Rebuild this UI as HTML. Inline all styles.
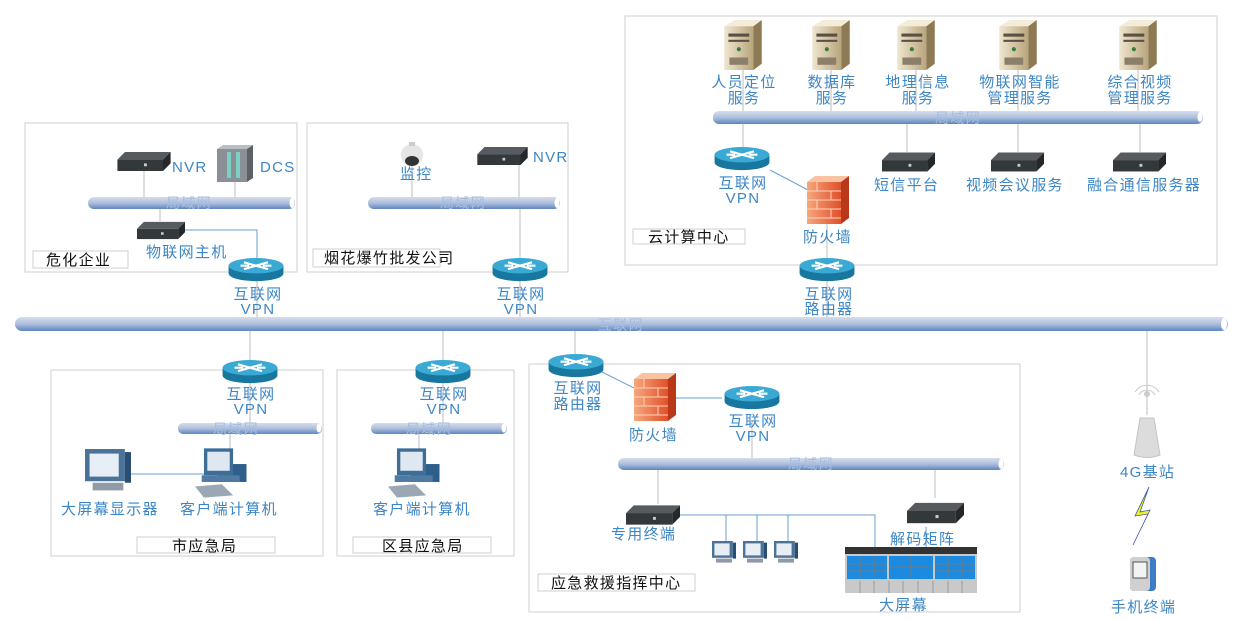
<!DOCTYPE html>
<html><head><meta charset="utf-8"><style>
html,body{margin:0;padding:0;background:#fff}
svg{display:block}
text{font-family:"Liberation Sans","Noto Sans CJK SC",sans-serif;font-size:15px;letter-spacing:1.3px}
.b{fill:#3d86c6}
.k{fill:#111}
.p{fill:#a6bde0;font-size:14px}
.bx{fill:none;stroke:#cfcfcf;stroke-width:1}
.lb{fill:#fff;stroke:#cfcfcf}
.ln{stroke:#bcbcbc;stroke-width:1;fill:none}
.bl{stroke:#6a9fd3;stroke-width:1;fill:none}
</style></head><body>
<svg width="1237" height="621" viewBox="0 0 1237 621" xmlns="http://www.w3.org/2000/svg">
<defs>
<linearGradient id="pg" x1="0" y1="0" x2="0" y2="1">
<stop offset="0" stop-color="#d6deec"/><stop offset="0.5" stop-color="#aebfdc"/><stop offset="1" stop-color="#5d86c0"/></linearGradient>
<linearGradient id="sv" x1="0" y1="0" x2="1" y2="0">
<stop offset="0" stop-color="#efe6cf"/><stop offset="1" stop-color="#b9a57c"/></linearGradient>
<linearGradient id="fw" x1="0" y1="0" x2="1" y2="0">
<stop offset="0" stop-color="#f7a77c"/><stop offset="1" stop-color="#e0502a"/></linearGradient>
<symbol id="rt" viewBox="0 0 64 28">
<path d="M0 9 V18 A32 9 0 0 0 64 18 V9 Z" fill="#17779f"/>
<ellipse cx="32" cy="9" rx="32" ry="9" fill="#3aaad4"/>
<path d="M18 5 L46 13 M46 5 L18 13 M14 9 H24 M40 9 H50" stroke="#fff" stroke-width="2.5"/>
</symbol>
<symbol id="dv" viewBox="0 0 56 20">
<path d="M8 0 H56 L48 8 H0 Z" fill="#555b5f"/>
<rect x="0" y="8" width="48" height="12" fill="#33383b"/>
<path d="M48 8 L56 0 V12 L48 20 Z" fill="#24282a"/>
<rect x="28" y="12" width="3" height="3" fill="#ccc"/>
</symbol>
<symbol id="sr" viewBox="0 0 36 48">
<path d="M0 6 L10 0 H36 L28 6 Z" fill="#f3ecd9"/>
<rect x="0" y="6" width="28" height="42" fill="url(#sv)"/>
<path d="M28 6 L36 0 V42 L28 48 Z" fill="#8d7a55"/>
<rect x="4" y="13" width="20" height="3" fill="#5a5144"/>
<rect x="4" y="19" width="20" height="2" fill="#5a5144"/>
<circle cx="14" cy="28" r="2" fill="#3a7a40"/>
<rect x="5" y="36" width="18" height="7" fill="#8b7f6a"/>
</symbol>
<symbol id="fwl" viewBox="0 0 42 48">
<path d="M0 6 L8 0 H42 L34 6 Z" fill="#f9c2a0"/>
<rect x="0" y="6" width="34" height="42" fill="url(#fw)"/>
<path d="M34 6 L42 0 V42 L34 48 Z" fill="#b9381a"/>
<path d="M0 15 H34 M0 24 H34 M0 33 H34 M0 42 H34 M10 6 V15 M24 15 V24 M10 24 V33 M24 33 V42" stroke="#fbd2bf" stroke-width="1"/>
</symbol>
<symbol id="pc" viewBox="0 0 50 44">
<rect x="20" y="14" width="26" height="16" fill="#2e5f8a"/>
<rect x="8" y="0" width="26" height="24" fill="#3d6e98"/>
<rect x="11" y="3" width="20" height="17" fill="#dfe8f0"/>
<rect x="6" y="24" width="34" height="6" fill="#4f7aa1"/>
<path d="M0 34 L24 32 L34 42 L8 44 Z" fill="#9aa8b6"/>
</symbol>
<symbol id="mn" viewBox="0 0 30 30">
<rect x="0" y="0" width="26" height="21" fill="#4b7399"/>
<rect x="3" y="3" width="19" height="15" fill="#e7eef5"/>
<rect x="26" y="2" width="4" height="20" fill="#2a4e73"/>
<rect x="5" y="22" width="20" height="5" fill="#8f9ba7"/>
</symbol>
</defs>

<rect class="bx" x="25" y="123" width="272" height="149"/>
<rect class="lb" x="33" y="251" width="95" height="17"/><text class="k" x="46" y="265">危化企业</text>
<rect class="bx" x="307" y="123" width="261" height="149"/>
<rect class="lb" x="313" y="249" width="127" height="18"/><text class="k" x="324" y="263">烟花爆竹批发公司</text>
<rect class="bx" x="625" y="16" width="592" height="249"/>
<rect class="lb" x="633" y="229" width="112" height="15"/><text class="k" x="648" y="242">云计算中心</text>
<rect class="bx" x="51" y="370" width="272" height="186"/>
<rect class="lb" x="137" y="537" width="138" height="16"/><text class="k" x="172" y="551">市应急局</text>
<rect class="bx" x="337" y="370" width="177" height="186"/>
<rect class="lb" x="353" y="537" width="138" height="16"/><text class="k" x="382" y="551">区县应急局</text>
<rect class="bx" x="529" y="364" width="491" height="248"/>
<rect class="lb" x="538" y="574" width="157" height="17"/><text class="k" x="551" y="588">应急救援指挥中心</text>

<g class="ln">
<path d="M144 170 V198 M235 182 V198 M160 209 V221 M412 166 V198 M519 164 V198 M520 208 V258"/>
<path d="M257 280 V318 M520 280 V318 M827 280 V318 M827 222 V258"/>
<path d="M743 70 V112 M831 70 V112 M916 70 V112 M1018 70 V112 M1138 70 V112"/>
<path d="M743 124 V148 M907 124 V152 M1018 124 V152 M1140 124 V152"/>
<path d="M250 331 V360 M443 331 V360 M575 331 V354 M1147 331 V415"/>
<path d="M250 382 V424 M443 382 V424 M230 434 V450 M419 434 V450 M752 420 V459 M658 470 V504 M935 470 V498"/>
</g>
<g class="bl">
<path d="M184 230 H257 V258"/>
<path d="M770 170 L808 190"/>
<path d="M598 370 L634 388"/>
<path d="M672 398 H722"/>
<path d="M130 474 H215"/>
<path d="M680 515 H875 V548 M726 515 V542 M757 515 V542 M788 515 V542"/>
<path d="M926 527 V547"/>
</g>

<g>
<rect x="15" y="317" width="1213" height="14" rx="7" fill="url(#pg)"/><ellipse cx="1224" cy="324" rx="3" ry="6" fill="#fff"/>
<text class="p" x="598" y="330">互联网</text>
<rect x="88" y="197" width="207" height="12" rx="6" fill="url(#pg)"/><ellipse cx="292" cy="203" rx="2.5" ry="5" fill="#fff"/><text class="p" x="166" y="208">局域网</text>
<rect x="368" y="197" width="192" height="12" rx="6" fill="url(#pg)"/><ellipse cx="557" cy="203" rx="2.5" ry="5" fill="#fff"/><text class="p" x="440" y="208">局域网</text>
<rect x="713" y="111" width="490" height="13" rx="6" fill="url(#pg)"/><ellipse cx="1200" cy="117" rx="2.5" ry="5" fill="#fff"/><text class="p" x="935" y="123">局域网</text>
<rect x="178" y="423" width="144" height="11" rx="5" fill="url(#pg)"/><ellipse cx="319" cy="428" rx="2.5" ry="4.5" fill="#fff"/><text class="p" x="213" y="434">局域网</text>
<rect x="371" y="423" width="136" height="11" rx="5" fill="url(#pg)"/><ellipse cx="504" cy="428" rx="2.5" ry="4.5" fill="#fff"/><text class="p" x="406" y="434">局域网</text>
<rect x="618" y="458" width="386" height="12" rx="6" fill="url(#pg)"/><ellipse cx="1001" cy="464" rx="2.5" ry="5" fill="#fff"/><text class="p" x="788" y="469">局域网</text>
</g>

<use href="#rt" x="224" y="258" width="64" height="24"/>
<use href="#rt" x="488" y="258" width="64" height="24"/>
<use href="#rt" x="795" y="258" width="64" height="24"/>
<use href="#rt" x="710" y="147" width="64" height="24"/>
<use href="#rt" x="218" y="360" width="64" height="24"/>
<use href="#rt" x="411" y="360" width="64" height="24"/>
<use href="#rt" x="544" y="354" width="64" height="24"/>
<use href="#rt" x="720" y="386" width="64" height="24"/>
<g class="b" text-anchor="middle">
<text x="258" y="299">互联网</text><text x="258" y="314">VPN</text>
<text x="521" y="299">互联网</text><text x="521" y="314">VPN</text>
<text x="829" y="299">互联网</text><text x="829" y="314">路由器</text>
<text x="743" y="188">互联网</text><text x="743" y="203">VPN</text>
<text x="251" y="399">互联网</text><text x="251" y="414">VPN</text>
<text x="444" y="399">互联网</text><text x="444" y="414">VPN</text>
<text x="578" y="393">互联网</text><text x="578" y="409">路由器</text>
<text x="753" y="426">互联网</text><text x="753" y="441">VPN</text>
</g>

<use href="#fwl" x="807" y="176" width="42" height="48"/><text class="b" x="803" y="242">防火墙</text>
<use href="#fwl" x="634" y="373" width="42" height="48"/><text class="b" x="629" y="440">防火墙</text>

<use href="#dv" x="117" y="152" width="54" height="19"/><text class="b" x="172" y="172">NVR</text>
<g><rect x="217" y="149" width="30" height="33" fill="#8a9096"/><path d="M217 149 L223 145 H253 L247 149 Z" fill="#b8bec3"/><path d="M247 149 L253 145 V178 L247 182 Z" fill="#5b6166"/><rect x="227" y="152" width="4" height="26" fill="#7ccfc3"/><rect x="236" y="152" width="4" height="26" fill="#7ccfc3"/></g>
<text class="b" x="260" y="172">DCS</text>
<use href="#dv" x="137" y="220" width="48" height="21"/><text class="b" x="146" y="257">物联网主机</text>
<g><circle cx="412" cy="155" r="11" fill="#e5e5e5"/><ellipse cx="412" cy="161" rx="7" ry="5" fill="#333"/><rect x="409" y="142" width="6" height="4" fill="#ccc"/></g>
<text class="b" x="400" y="179" font-size="13">监控</text>
<use href="#dv" x="475" y="147" width="55" height="18"/><text class="b" x="533" y="162">NVR</text>

<use href="#sr" x="724" y="20" width="38" height="50"/>
<use href="#sr" x="812" y="20" width="38" height="50"/>
<use href="#sr" x="897" y="20" width="38" height="50"/>
<use href="#sr" x="999" y="20" width="38" height="50"/>
<use href="#sr" x="1119" y="20" width="38" height="50"/>
<g class="b" text-anchor="middle">
<text x="744" y="87">人员定位</text><text x="744" y="103">服务</text>
<text x="832" y="87">数据库</text><text x="832" y="103">服务</text>
<text x="918" y="87">地理信息</text><text x="918" y="103">服务</text>
<text x="1020" y="87">物联网智能</text><text x="1020" y="103">管理服务</text>
<text x="1140" y="87">综合视频</text><text x="1140" y="103">管理服务</text>
</g>
<use href="#dv" x="882" y="152" width="53" height="20"/><text class="b" x="874" y="190">短信平台</text>
<use href="#dv" x="991" y="152" width="53" height="20"/><text class="b" x="966" y="190">视频会议服务</text>
<use href="#dv" x="1113" y="152" width="53" height="20"/><text class="b" x="1087" y="190">融合通信服务器</text>

<use href="#mn" x="85" y="449" width="46" height="46"/>
<use href="#pc" x="195" y="448" width="56" height="50"/>
<text class="b" x="61" y="514">大屏幕显示器</text><text class="b" x="180" y="514">客户端计算机</text>
<use href="#pc" x="388" y="448" width="56" height="50"/>
<text class="b" x="373" y="514">客户端计算机</text>

<use href="#dv" x="626" y="504" width="54" height="22"/><text class="b" x="611" y="539">专用终端</text>
<use href="#mn" x="712" y="541" width="24" height="24"/>
<use href="#mn" x="743" y="541" width="24" height="24"/>
<use href="#mn" x="774" y="541" width="24" height="24"/>
<use href="#dv" x="907" y="497" width="57" height="32"/><text class="b" x="890" y="544">解码矩阵</text>
<g>
<rect x="845" y="547" width="132" height="46" fill="#c9c9c9"/>
<rect x="845" y="547" width="132" height="7" fill="#333"/>
<rect x="847" y="556" width="40" height="23" fill="#1a8be0"/>
<rect x="889" y="556" width="44" height="23" fill="#1a8be0"/>
<rect x="935" y="556" width="40" height="23" fill="#1a8be0"/>
<path d="M860 556 V579 M874 556 V579 M847 564 H887 M847 571 H887 M911 556 V579 M889 567 H933 M948 556 V579 M962 556 V579 M935 564 H975 M935 571 H975" stroke="#777" stroke-width="1"/>
<path d="M860 581 V593 M874 581 V593 M889 581 V593 M903 581 V593 M918 581 V593 M933 581 V593 M948 581 V593 M962 581 V593" stroke="#999"/>
</g>
<text class="b" x="879" y="610">大屏幕</text>

<g fill="none" stroke="#ccc"><path d="M1135 392 A14 14 0 0 1 1159 392 M1139 395 A9 9 0 0 1 1155 395"/></g>
<circle cx="1147" cy="394" r="3" fill="#ccc"/>
<path d="M1140 418 H1154 L1160 455 Q1147 460 1134 455 Z" fill="#dcdcdc" stroke="#c4c4c4"/>
<text class="b" x="1120" y="477">4G基站</text>
<path d="M1149 487 L1135 516 L1148 514 L1133 545 L1150 510 L1140 512 Z" fill="#f4ef20" stroke="#3a5ea0" stroke-width="0.8"/>
<rect x="1130" y="557" width="26" height="34" rx="4" fill="#3f7cc6"/>
<rect x="1130" y="557" width="20" height="34" rx="4" fill="#d0d0d0"/>
<rect x="1133" y="562" width="14" height="16" fill="#f3f3f3" stroke="#555"/>
<text class="b" x="1111" y="612">手机终端</text>
</svg>
</body></html>
